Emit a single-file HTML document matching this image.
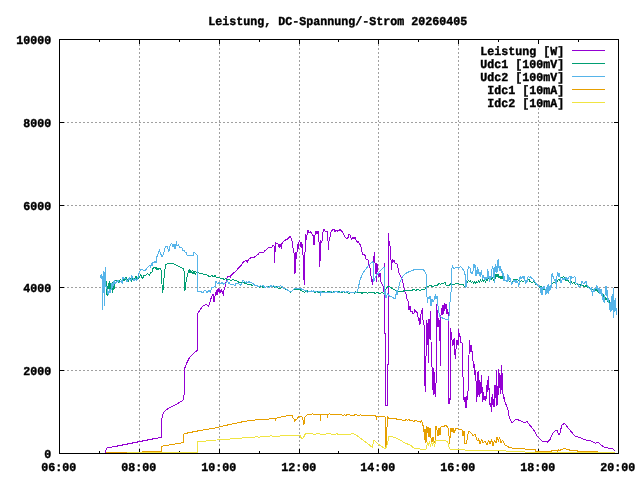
<!DOCTYPE html>
<html><head><meta charset="utf-8"><title>Leistung</title>
<style>
html,body{margin:0;padding:0;background:#fff;}
svg{display:block;}
text{font-family:"Liberation Mono","DejaVu Sans Mono",monospace;font-weight:bold;font-size:12.14px;fill:#000;stroke:#000;stroke-width:0.4px;text-rendering:geometricPrecision;}
.g{stroke:#a0a0a0;stroke-width:1;stroke-dasharray:2 2;shape-rendering:crispEdges;}
.k{stroke:#000;stroke-width:1;fill:none;shape-rendering:crispEdges;}
.d{stroke-width:1;fill:none;shape-rendering:crispEdges;stroke-linejoin:bevel;}
</style></head>
<body>
<svg width="640" height="480" viewBox="0 0 640 480">
<rect width="640" height="480" fill="#fff"/>
<line x1="139.5" y1="454" x2="139.5" y2="39" class="g"/>
<line x1="219.5" y1="454" x2="219.5" y2="39" class="g"/>
<line x1="299.5" y1="454" x2="299.5" y2="39" class="g"/>
<line x1="378.5" y1="454" x2="378.5" y2="39" class="g"/>
<line x1="458.5" y1="454" x2="458.5" y2="39" class="g"/>
<line x1="538.5" y1="454" x2="538.5" y2="39" class="g"/>
<line x1="59" y1="370.5" x2="619" y2="370.5" class="g"/>
<line x1="59" y1="287.5" x2="619" y2="287.5" class="g"/>
<line x1="59" y1="205.5" x2="619" y2="205.5" class="g"/>
<line x1="59" y1="122.5" x2="619" y2="122.5" class="g"/>
<rect x="470" y="44" width="142" height="64" fill="#fff"/>
<path d="M139.5 453V449M139.5 40V44M219.5 453V449M219.5 40V44M299.5 453V449M299.5 40V44M378.5 453V449M378.5 40V44M458.5 453V449M458.5 40V44M538.5 453V449M538.5 40V44M99.5 453V451M99.5 40V42M179.5 453V451M179.5 40V42M259.5 453V451M259.5 40V42M338.5 453V451M338.5 40V42M418.5 453V451M418.5 40V42M498.5 453V451M498.5 40V42M578.5 453V451M578.5 40V42M60 370.5H64M618 370.5H614M60 287.5H64M618 287.5H614M60 205.5H64M618 205.5H614M60 122.5H64M618 122.5H614" class="k"/>
<text x="41.20" y="471" textLength="35" lengthAdjust="spacingAndGlyphs">06:00</text>
<text x="121.20" y="471" textLength="35" lengthAdjust="spacingAndGlyphs">08:00</text>
<text x="201.20" y="471" textLength="35" lengthAdjust="spacingAndGlyphs">10:00</text>
<text x="281.20" y="471" textLength="35" lengthAdjust="spacingAndGlyphs">12:00</text>
<text x="360.20" y="471" textLength="35" lengthAdjust="spacingAndGlyphs">14:00</text>
<text x="440.20" y="471" textLength="35" lengthAdjust="spacingAndGlyphs">16:00</text>
<text x="520.20" y="471" textLength="35" lengthAdjust="spacingAndGlyphs">18:00</text>
<text x="600.20" y="471" textLength="35" lengthAdjust="spacingAndGlyphs">20:00</text>
<text x="44.20" y="458" textLength="7" lengthAdjust="spacingAndGlyphs">0</text>
<text x="23.20" y="375" textLength="28" lengthAdjust="spacingAndGlyphs">2000</text>
<text x="23.20" y="292" textLength="28" lengthAdjust="spacingAndGlyphs">4000</text>
<text x="23.20" y="210" textLength="28" lengthAdjust="spacingAndGlyphs">6000</text>
<text x="23.20" y="127" textLength="28" lengthAdjust="spacingAndGlyphs">8000</text>
<text x="16.20" y="44" textLength="35" lengthAdjust="spacingAndGlyphs">10000</text>
<text x="208.20" y="25" textLength="259" lengthAdjust="spacingAndGlyphs">Leistung, DC-Spannung/-Strom 20260405</text>
<text x="480.20" y="55" textLength="84" lengthAdjust="spacingAndGlyphs">Leistung [W]</text>
<line x1="572" y1="50.5" x2="605" y2="50.5" stroke="#9400d3" class="d"/>
<polyline points="105.50,453.00 106.00,450.00 107.00,448.00 115.00,446.50 125.00,444.50 135.00,442.50 145.00,440.50 155.00,438.50 161.00,437.50 161.00,423.00 162.50,415.00 164.50,411.50 167.50,409.00 175.00,405.00 183.00,400.50 184.00,395.00 184.00,370.00 185.00,367.50 187.00,362.50 189.50,357.50 192.00,355.00 197.50,350.00 197.50,314.00 200.00,310.00 203.00,306.00 205.00,305.00 206.25,304.00 206.70,305.00 208.00,306.00 208.75,306.25 209.40,303.00 210.00,301.70 210.60,299.00 211.25,298.30 211.80,297.00 212.50,295.00 213.30,294.00 214.00,301.70 214.60,298.00 215.00,296.00 215.60,293.00 216.25,291.70 216.60,290.00 217.00,295.00 217.50,289.00 218.30,291.70 218.70,288.30 219.20,290.00 219.60,293.30 220.00,290.00 220.40,292.50 220.80,290.00 221.20,291.70 221.70,289.00 222.20,293.30 222.50,291.00 223.20,295.80 223.75,290.80 225.00,286.70 226.20,281.00 227.00,277.70 228.00,276.00 229.50,276.50 230.50,277.70 231.00,275.60 233.00,273.50 235.40,271.50 237.00,270.00 238.50,268.00 240.00,266.50 241.70,265.20 242.70,262.60 243.75,261.60 245.00,261.00 246.50,260.50 247.40,262.60 248.00,260.50 249.00,259.00 250.50,258.00 252.00,256.90 253.00,258.20 254.20,257.50 255.00,256.50 256.50,255.50 258.30,254.30 259.40,252.00 260.50,252.70 261.50,252.00 263.50,252.70 264.60,250.60 266.70,249.60 267.70,248.00 269.50,247.50 271.90,247.00 273.00,245.40 274.00,245.50 274.50,263.00 275.00,252.00 275.50,242.80 277.00,243.50 278.20,244.00 279.20,248.00 279.70,244.00 280.50,244.00 281.25,248.50 281.80,244.00 283.30,241.25 285.00,240.20 287.00,239.50 289.00,237.50 290.30,236.50 291.00,238.00 291.70,238.50 292.50,245.00 293.70,252.00 294.30,254.00 295.00,273.75 295.40,255.00 295.70,252.00 296.30,259.00 297.00,252.00 297.80,244.00 298.50,249.40 299.00,242.00 299.80,240.60 300.50,246.70 301.00,242.00 301.80,248.00 302.50,244.00 303.50,265.00 304.20,285.25 304.80,260.00 305.50,234.50 306.30,240.00 307.20,234.00 308.00,230.40 309.30,233.00 310.50,231.80 312.00,234.00 313.30,235.80 314.00,245.30 314.70,236.00 316.00,231.00 317.00,234.00 318.00,231.00 318.70,232.00 319.80,267.00 320.80,240.00 321.80,243.00 322.80,233.00 324.00,229.00 325.00,231.00 326.50,232.00 327.50,230.80 328.40,249.60 328.90,241.70 329.50,240.00 330.00,237.50 330.80,233.00 331.70,230.40 333.00,229.80 334.20,229.20 335.00,231.70 335.80,230.00 337.00,231.25 338.50,230.50 339.20,231.00 340.00,229.60 341.00,230.50 342.50,232.00 343.30,233.30 344.20,235.00 345.00,236.70 345.80,238.00 346.70,239.20 347.50,237.50 348.30,237.50 349.00,234.20 350.00,235.00 350.80,237.00 351.50,240.00 352.20,236.70 353.00,239.20 353.80,236.70 354.60,239.20 355.40,237.50 355.80,239.20 356.30,242.00 357.00,240.80 357.80,243.00 358.50,241.50 359.30,244.00 360.00,244.20 360.80,246.00 361.30,248.30 361.70,248.30 362.20,254.00 362.50,255.00 363.30,254.00 364.00,254.50 365.00,255.50 366.00,259.00 368.00,260.00 369.00,265.00 370.00,268.00 371.00,276.00 372.50,285.00 373.30,276.00 374.00,256.00 374.50,252.00 375.00,263.00 376.70,282.00 376.90,263.00 377.50,270.00 379.00,277.00 380.00,273.00 380.80,280.00 381.00,282.00 383.00,286.00 384.00,292.00 384.20,263.00 384.40,333.00 385.40,334.00 385.40,405.00 387.50,405.00 387.50,365.00 388.30,364.00 388.50,233.00 389.00,241.00 389.60,242.00 390.00,246.00 390.80,246.00 391.00,260.00 391.70,270.00 392.20,259.00 393.00,262.00 394.00,260.00 395.00,263.00 396.70,263.00 398.00,268.00 399.00,273.00 402.50,280.00 404.40,290.00 406.25,295.00 407.00,299.00 408.00,301.00 409.00,310.00 410.00,306.00 411.00,312.00 412.00,311.00 413.00,314.00 414.00,313.00 414.40,309.00 415.60,311.00 417.50,313.00 418.00,316.50 418.50,321.00 419.00,318.00 419.50,325.00 420.30,323.00 420.80,316.00 421.50,310.00 422.00,314.00 422.40,308.30 422.60,318.00 423.50,322.00 424.40,327.50 424.60,386.00 425.00,367.00 425.60,392.00 426.20,340.00 426.80,320.00 427.60,330.00 428.50,362.50 429.00,319.00 429.70,338.50 430.40,311.00 431.00,340.00 431.25,366.00 432.00,366.00 432.50,390.00 433.00,368.00 434.00,395.00 434.50,372.00 435.60,397.00 436.25,375.00 436.50,303.70 437.30,312.80 438.00,327.00 438.60,318.00 439.20,327.50 439.80,320.00 440.25,366.00 440.60,340.00 441.00,315.60 441.60,308.00 442.00,315.00 442.60,305.00 443.20,314.00 443.80,305.00 444.30,311.00 445.00,303.50 445.60,309.00 446.20,304.00 447.00,313.80 447.50,309.00 448.30,313.80 448.60,404.00 449.30,398.00 450.00,404.00 450.60,328.40 451.50,337.00 452.90,346.00 453.50,341.00 454.20,338.00 455.00,355.00 455.60,359.00 456.00,349.00 457.00,340.00 458.00,345.00 458.50,329.00 459.40,336.00 460.00,336.00 461.00,342.50 462.00,343.00 462.50,357.00 463.00,377.00 464.00,400.00 464.50,402.00 465.00,397.00 466.00,408.00 467.00,396.00 467.80,400.00 468.50,370.00 469.50,340.00 470.00,345.00 471.00,352.00 471.50,345.00 472.80,360.00 473.10,362.00 473.60,368.00 474.25,364.00 475.00,375.00 475.50,370.00 476.00,381.40 476.50,401.60 477.00,381.00 477.50,372.00 477.90,397.00 478.30,371.00 478.75,395.00 479.30,380.00 479.80,397.00 480.30,382.00 481.00,394.00 481.40,374.60 482.00,387.00 482.60,401.60 483.25,392.00 484.00,400.00 485.00,396.00 485.80,400.50 486.60,396.00 487.20,380.00 487.75,391.50 488.30,375.75 488.90,390.40 489.50,388.00 490.00,405.00 490.80,402.75 491.30,411.75 491.70,404.00 492.20,393.75 492.80,405.00 493.30,399.40 494.00,407.25 494.50,398.00 495.00,384.75 495.60,398.25 496.20,386.00 496.60,370.00 497.00,406.00 497.50,386.00 498.00,396.00 498.40,381.00 498.90,369.00 499.30,388.00 499.60,373.00 500.20,393.75 500.80,375.00 501.25,390.00 501.80,365.00 502.40,388.00 503.00,394.00 503.50,399.40 504.00,397.00 505.00,402.00 506.20,405.00 507.00,407.00 508.00,410.00 509.00,416.00 510.00,419.00 511.00,421.00 512.50,423.00 514.00,421.00 516.00,419.00 520.00,420.60 521.70,421.50 524.30,422.70 526.90,421.50 530.30,425.80 533.75,430.00 537.20,436.00 542.30,441.30 547.50,442.10 550.00,439.50 552.70,433.50 555.20,431.00 557.00,430.00 557.80,432.70 559.50,435.20 561.25,427.50 562.10,425.00 564.70,423.20 566.40,425.80 569.80,430.00 575.00,436.00 580.20,437.80 585.30,439.90 590.50,440.90 595.60,443.30 598.20,442.10 600.80,444.70 604.20,447.30 612.80,449.00 615.40,451.60" stroke="#9400d3" class="d"/>
<text x="480.20" y="68" textLength="84" lengthAdjust="spacingAndGlyphs">Udc1 [100mV]</text>
<line x1="572" y1="63.5" x2="605" y2="63.5" stroke="#009e73" class="d"/>
<polyline points="106.00,278.70 106.20,295.30 106.80,290.00 107.30,296.40 107.80,287.00 108.40,283.00 109.00,289.00 109.60,281.00 110.30,290.00 111.00,283.00 111.50,288.00 112.20,282.00 112.80,293.00 113.50,284.00 114.10,289.00 114.70,280.00 115.50,280.07 117.90,281.60 119.19,282.33 120.43,278.72 122.29,283.31 123.08,277.66 124.30,281.25 125.99,277.09 128.33,281.55 130.07,278.11 131.30,281.62 133.11,277.94 134.94,278.70 135.70,275.67 137.28,279.84 139.00,277.50 140.69,274.56 142.38,278.95 144.06,275.29 145.75,275.21 147.44,273.66 149.12,275.40 150.81,272.47 152.50,271.75 152.50,268.20 153.38,268.65 154.25,266.82 155.12,268.36 156.00,267.36 156.00,270.19 156.96,267.94 157.92,270.24 158.88,268.77 159.84,269.01 160.80,268.09 161.50,275.00 162.50,293.00 163.50,287.00 164.20,275.00 165.60,264.00 167.00,264.00 169.00,263.60 171.00,263.40 173.00,263.50 175.00,264.50 177.00,265.50 179.00,266.50 181.00,267.50 183.00,268.50 183.90,270.00 184.50,277.00 185.00,290.50 186.00,282.00 187.00,277.00 187.90,273.00 189.30,269.50 189.30,271.53 190.42,270.59 191.53,271.29 192.65,270.86 193.77,271.95 194.88,273.79 196.00,274.15 188.00,271.49 189.40,270.21 190.80,272.28 192.20,272.34 193.60,272.34 195.00,271.36 195.00,271.70 197.00,272.50 199.00,273.00 201.00,273.50 203.00,274.00 205.00,274.00 206.50,274.60 208.30,275.80 209.50,277.00 210.80,276.00 212.00,275.00 213.50,277.00 215.00,275.50 216.70,277.50 218.00,278.00 219.50,277.50 221.00,279.00 222.50,278.30 224.00,279.50 225.50,278.50 227.50,280.00 229.00,279.20 231.00,280.50 233.00,279.50 235.00,280.80 236.00,280.20 237.46,281.18 238.92,282.46 240.38,282.19 241.85,282.86 243.31,282.20 244.77,283.12 246.23,283.84 247.69,284.42 249.15,284.73 250.62,283.93 252.08,285.55 253.54,284.59 255.00,286.10 255.00,285.09 256.33,285.16 257.67,286.48 259.00,287.03 259.00,287.83 260.50,286.21 262.00,286.46 263.50,287.96 265.00,287.72 266.50,286.53 268.00,286.70 269.50,287.29 271.00,286.63 272.50,286.96 274.00,286.50 275.50,287.72 277.00,286.62 278.50,288.30 280.00,288.19 281.50,287.99 283.00,287.99 285.00,289.00 288.00,290.50 291.00,292.30 293.00,290.00 296.00,289.00 300.00,289.50 302.00,291.24 303.49,291.89 304.98,292.09 306.47,291.56 307.96,290.75 309.45,291.92 310.95,291.35 312.44,291.95 313.93,291.60 315.42,292.70 316.91,291.23 318.40,292.40 319.89,292.29 321.38,292.04 322.87,291.12 324.36,291.32 325.85,292.96 327.35,291.52 328.84,291.42 330.33,291.70 331.82,292.23 333.31,292.23 334.80,291.23 336.29,291.26 337.78,292.28 339.27,291.69 340.76,292.57 342.25,292.98 343.75,291.61 345.24,292.46 346.73,292.29 348.22,293.10 349.71,293.46 351.20,292.41 352.69,292.10 354.18,293.40 355.67,291.73 357.16,292.37 358.65,292.53 360.15,292.13 361.64,293.17 363.13,292.88 364.62,292.37 366.11,292.73 367.60,293.32 369.09,292.62 370.58,292.14 372.07,292.96 373.56,292.46 375.05,293.35 376.55,292.54 378.04,292.44 379.53,293.99 381.02,292.90 382.51,292.85 384.00,293.38 386.00,289.00 388.00,286.00 390.00,287.00 393.00,289.00 396.70,291.00 400.00,291.50 400.00,291.31 401.47,291.19 402.94,291.30 404.41,290.35 405.88,290.53 407.35,290.34 408.82,290.50 410.29,290.50 411.76,290.50 413.24,289.51 414.71,289.91 416.18,290.36 417.65,289.20 419.12,290.25 420.59,290.06 422.06,289.52 423.53,289.51 425.00,289.12 425.00,287.97 426.54,287.11 428.08,286.34 429.62,285.52 431.15,285.81 432.69,286.61 434.23,285.78 435.77,285.33 437.31,285.60 438.85,283.45 440.38,284.24 441.92,283.07 443.46,283.14 445.00,282.36 445.00,284.20 446.50,285.30 448.00,284.95 449.50,285.19 451.00,283.65 452.50,284.10 454.00,285.07 455.50,283.58 457.00,283.88 458.50,283.66 460.00,285.14 461.50,283.96 462.00,284.50 463.50,285.00 464.50,286.70 465.50,286.70 466.50,284.00 467.00,282.50 468.50,280.00 469.50,282.00 470.50,280.50 471.50,283.00 472.50,281.00 473.50,283.50 474.50,281.00 475.50,284.00 476.50,281.50 477.50,283.00 478.50,280.50 479.50,282.50 480.50,279.50 481.50,282.00 482.50,279.50 483.50,281.50 484.50,279.00 485.50,282.50 486.50,279.00 487.50,280.50 488.50,277.50 489.50,281.00 490.50,278.00 491.50,280.00 492.50,277.00 493.50,281.00 494.50,277.50 495.50,279.00 496.00,274.00 497.00,277.00 498.00,274.50 499.00,278.00 500.00,276.00 501.00,278.50 502.00,276.50 503.00,279.00 504.00,280.50 505.00,280.70 507.00,281.50 509.00,280.80 510.60,281.70 511.50,282.50 512.50,281.50 513.50,280.00 515.30,279.50 516.50,279.00 518.00,279.80 519.00,280.50 520.00,281.50 521.50,280.50 523.00,281.70 524.50,280.50 526.60,281.00 527.50,279.00 529.40,279.50 530.00,281.70 532.00,282.50 533.50,281.70 535.00,282.60 536.00,284.50 537.50,285.50 538.70,286.40 540.00,287.50 541.00,286.50 542.50,288.20 543.50,290.00 544.50,289.00 545.50,291.50 546.50,290.00 547.20,293.00 548.10,291.00 549.00,290.00 550.00,287.50 551.00,285.50 551.90,284.50 553.00,283.00 554.50,282.50 555.60,281.70 556.50,279.50 557.50,281.50 558.50,279.00 559.50,281.00 560.30,278.50 561.50,277.00 562.50,278.00 563.50,276.00 563.50,276.00 565.00,279.50 566.50,281.00 568.00,280.00 569.50,282.50 571.00,281.00 572.50,283.50 574.00,282.00 575.50,284.50 577.00,283.00 578.50,285.00 580.00,284.00 581.50,286.00 583.00,285.00 584.50,287.00 586.00,285.50 587.50,287.00 588.75,287.00 590.00,288.50 591.50,290.00 593.00,289.00 594.50,291.00 596.00,289.50 597.50,291.00 598.75,292.00 600.00,294.00 601.00,293.00 602.00,296.00 603.00,294.50 604.00,297.50 605.00,297.00 606.00,300.00 607.00,298.50 608.00,302.00 609.00,300.50 610.00,304.50 611.00,303.00 612.00,306.00 613.00,304.00 614.00,308.00 615.00,305.50 615.60,308.00" stroke="#009e73" class="d"/>
<text x="480.20" y="81" textLength="84" lengthAdjust="spacingAndGlyphs">Udc2 [100mV]</text>
<line x1="572" y1="76.5" x2="605" y2="76.5" stroke="#56b4e9" class="d"/>
<polyline points="100.00,278.00 100.50,277.60 101.00,275.00 101.50,279.00 102.00,274.50 102.30,310.00 102.60,276.00 103.00,290.00 103.30,273.00 103.60,293.00 104.00,271.00 104.30,305.75 104.70,272.00 105.00,288.00 105.30,268.00 105.60,267.20 105.80,287.00 106.30,286.00 107.00,289.00 107.50,294.00 108.00,291.00 108.70,295.00 109.30,292.00 110.00,289.00 110.70,293.00 111.30,288.00 112.00,283.00 112.60,288.00 113.20,281.00 113.80,286.00 114.50,280.00 115.50,284.30 117.77,280.14 119.47,282.68 121.24,280.53 122.09,283.67 122.87,277.62 124.68,278.80 126.28,279.15 127.03,281.63 129.16,277.33 130.71,281.28 131.88,275.47 134.01,280.62 135.10,278.76 136.48,280.40 138.81,276.12 139.00,272.62 140.57,269.71 142.14,269.35 143.71,270.50 145.29,271.03 146.86,267.92 148.43,266.95 150.00,264.70 150.00,265.00 150.70,267.50 151.40,263.40 152.00,266.00 152.70,262.00 154.00,263.00 155.00,261.40 156.00,263.00 156.80,257.00 158.00,254.00 159.50,249.20 160.20,252.60 160.80,254.00 162.00,256.70 163.50,254.00 164.50,250.00 165.60,245.80 167.60,247.00 168.50,252.00 169.50,249.00 170.30,244.50 171.70,243.00 173.00,247.00 174.00,244.00 175.00,248.50 176.00,244.00 176.50,241.00 177.00,246.00 178.50,244.50 180.00,248.00 181.80,247.00 182.50,251.00 184.00,250.00 185.20,252.60 186.00,252.00 187.20,255.30 193.30,255.30 194.00,252.00 196.00,254.00 196.70,255.00 197.00,254.00 197.50,291.70 200.00,291.50 203.00,292.50 205.00,290.00 207.00,292.50 209.00,290.50 210.40,292.50 211.00,290.00 211.25,287.00 213.00,287.50 214.20,286.70 215.40,286.00 216.00,281.50 216.25,280.80 217.00,283.00 217.90,284.00 219.00,282.50 220.50,284.00 222.00,282.50 223.50,284.20 225.00,283.00 225.80,283.30 226.50,281.50 227.50,280.80 228.50,283.50 229.50,282.00 230.00,284.20 232.00,285.00 233.50,284.20 235.00,285.80 236.00,283.30 237.43,283.57 238.85,283.87 240.27,285.08 241.70,284.58 242.50,280.00 245.00,281.50 245.00,282.96 246.33,281.73 247.67,283.05 249.00,281.68 250.33,282.72 251.67,282.93 253.00,283.31 253.00,283.82 254.20,284.65 255.40,285.76 256.60,285.10 257.80,286.46 259.00,287.18 259.00,287.18 260.33,285.72 261.67,286.35 263.00,285.44 264.33,287.00 265.67,287.52 267.00,286.32 268.33,287.45 269.67,287.10 271.00,285.59 272.33,286.71 273.67,285.72 275.00,286.39 276.33,287.58 277.67,285.99 279.00,287.07 280.33,285.88 281.67,286.04 283.00,288.09 286.00,289.00 289.00,291.00 291.00,292.00 294.00,289.00 297.00,288.00 300.00,288.50 303.00,289.50 305.00,290.69 306.25,290.89 307.50,292.46 308.75,291.24 310.00,291.10 311.25,290.90 312.50,291.75 313.75,290.91 315.00,291.27 316.25,291.32 317.50,292.41 318.75,291.28 320.00,292.18 320.00,296.40 321.00,291.48 322.30,292.99 323.61,292.98 324.91,292.85 326.21,292.80 327.52,292.11 328.82,292.86 330.12,292.28 331.43,291.32 332.73,292.46 334.04,292.70 335.34,291.03 336.64,291.39 337.95,292.57 339.25,292.54 340.55,292.12 341.86,291.24 343.16,291.53 344.46,291.47 345.77,292.96 347.07,291.45 348.38,291.74 349.68,292.38 350.98,292.33 352.29,292.12 353.59,292.30 354.89,292.73 356.20,292.83 357.50,291.22 360.00,280.00 362.50,274.00 365.00,270.00 368.30,265.80 372.50,261.25 373.30,263.30 373.75,281.70 375.00,278.30 376.70,275.00 380.80,270.00 384.20,266.70 384.60,295.00 385.00,290.00 386.00,298.00 387.50,293.30 389.00,295.80 392.00,297.00 395.00,299.20 396.00,294.00 396.70,290.00 397.00,295.00 398.30,288.30 400.00,282.00 402.50,277.00 405.00,273.75 410.00,271.25 415.00,269.50 420.00,269.80 423.75,270.00 426.00,274.00 426.50,290.00 427.40,303.00 428.00,297.00 429.00,299.00 430.00,296.00 431.00,306.00 431.70,299.00 433.00,301.60 434.00,300.00 435.40,294.40 436.00,299.00 437.00,296.00 437.60,303.00 438.50,310.00 439.50,316.00 441.00,317.00 443.00,318.50 445.00,319.00 447.50,320.00 448.75,320.00 450.00,302.50 451.25,290.00 452.00,268.00 452.50,267.50 452.50,265.50 453.62,268.45 454.75,268.56 455.88,266.95 457.00,267.18 458.12,268.22 459.25,267.50 460.38,266.63 461.50,267.20 462.00,268.30 463.50,270.00 464.50,271.70 465.30,276.00 466.00,287.50 466.60,284.00 467.00,280.00 467.50,272.00 468.30,267.50 468.70,265.80 469.30,268.00 470.00,267.50 470.50,273.00 471.20,271.70 472.00,274.00 472.80,272.00 473.30,269.00 474.00,264.00 474.50,268.00 475.00,265.00 475.50,272.00 476.00,276.00 476.60,270.00 477.20,274.00 477.80,267.50 478.30,274.00 478.70,269.00 479.50,276.00 480.00,272.00 480.50,276.70 481.20,270.00 482.00,275.00 482.40,279.00 483.00,275.00 483.70,278.00 484.50,277.00 485.00,280.00 486.00,277.00 487.00,279.00 487.50,269.00 488.00,276.00 488.70,271.00 489.20,281.70 490.00,276.00 490.50,280.00 491.20,277.00 492.00,269.00 492.80,265.80 493.30,271.00 493.70,270.00 494.20,282.50 494.70,272.00 495.20,264.00 496.00,272.00 496.50,266.00 497.00,273.00 497.50,262.00 498.25,259.00 498.70,267.50 499.30,266.00 500.00,271.00 500.50,266.00 501.20,271.70 501.70,269.00 502.30,276.00 502.80,271.00 503.30,275.00 504.00,281.00 504.50,276.00 505.00,281.00 506.00,280.00 507.00,281.70 507.40,279.00 507.80,274.00 508.30,281.00 508.70,275.00 509.20,280.00 509.80,277.00 510.60,281.00 511.00,282.00 511.80,284.50 512.50,282.50 513.40,281.00 514.20,280.00 515.30,282.60 516.00,280.00 517.00,283.00 517.70,281.00 518.30,284.50 519.00,286.40 519.30,277.00 520.00,279.00 520.80,276.00 521.60,279.00 522.40,276.50 523.20,278.50 524.00,276.00 524.70,279.00 525.30,283.50 526.00,280.00 526.80,283.00 527.50,279.80 528.30,276.00 529.50,277.50 530.50,276.00 531.20,278.00 532.50,278.50 533.50,280.00 535.00,281.70 535.80,283.50 537.00,284.50 537.80,285.40 538.70,287.00 539.50,285.50 540.60,288.20 541.00,293.00 541.50,287.00 542.00,294.80 542.50,287.00 543.30,289.00 544.00,286.40 545.30,290.00 545.80,294.80 546.70,290.00 547.20,285.00 547.70,293.00 548.20,284.50 548.80,294.00 549.40,286.00 550.00,290.00 550.70,285.00 551.40,287.50 551.80,274.00 552.50,273.20 553.20,278.90 553.70,276.00 554.30,281.00 555.00,279.00 555.60,283.50 556.00,281.70 556.50,289.20 557.00,276.00 557.60,272.30 558.30,277.00 559.00,273.00 559.80,274.00 560.40,281.00 561.20,283.00 562.50,278.00 564.00,280.00 566.00,277.00 567.00,280.00 569.00,277.00 570.00,276.00 570.50,285.00 571.25,276.00 573.00,278.00 575.00,276.50 576.00,283.00 578.00,284.00 579.00,287.00 581.00,286.00 582.00,281.50 584.00,284.00 586.00,281.00 587.00,285.00 588.50,287.00 590.50,290.00 591.50,287.00 592.00,291.50 592.70,295.50 593.30,289.00 594.00,292.00 595.00,288.00 596.00,289.00 596.70,285.00 597.50,287.00 598.30,292.00 599.00,288.00 600.00,294.00 601.00,289.00 602.00,295.50 602.50,293.00 603.20,302.00 604.00,297.00 604.50,303.00 605.20,292.00 606.00,285.75 606.50,296.00 607.30,290.00 608.00,301.00 608.70,298.00 609.50,310.00 610.30,302.00 611.00,312.00 611.50,300.00 612.20,294.50 612.70,309.50 613.30,288.00 613.80,318.00 614.40,300.00 615.00,312.00 615.50,298.00 616.20,314.50 617.00,308.00" stroke="#56b4e9" class="d"/>
<text x="487.20" y="94" textLength="77" lengthAdjust="spacingAndGlyphs">Idc1 [10mA]</text>
<line x1="572" y1="89.5" x2="605" y2="89.5" stroke="#e69f00" class="d"/>
<polyline points="105.50,452.50 142.00,452.50 142.50,451.25 161.25,451.25 161.25,446.25 183.75,442.50 184.00,433.75 186.25,433.25 200.00,430.50 215.00,428.00 227.50,425.00 245.00,421.25 255.00,420.00 255.00,419.80 256.54,419.95 258.08,419.44 259.62,419.88 261.15,420.01 262.69,419.31 264.23,419.38 265.77,419.33 267.31,419.37 268.85,419.09 270.38,418.86 271.92,418.95 273.46,418.14 275.00,418.94 275.00,421.25 276.00,418.00 276.00,418.40 277.44,417.92 278.89,417.15 280.33,417.29 281.78,416.42 283.22,416.51 284.67,416.05 286.11,416.12 287.56,415.53 289.00,415.09 290.00,415.00 292.00,415.50 293.00,418.00 294.00,419.00 294.80,422.30 295.30,419.00 296.50,419.50 297.50,418.00 298.50,417.00 299.40,416.20 300.50,417.00 301.50,416.50 302.20,417.50 303.00,420.00 303.60,424.70 304.20,423.00 305.00,417.00 306.00,416.00 307.30,414.40 308.00,414.91 309.50,414.15 311.00,414.58 312.50,413.82 314.00,414.59 315.50,414.90 317.00,414.90 318.50,414.26 320.00,413.98 320.00,420.50 321.00,415.00 321.00,414.63 322.50,414.27 324.00,414.24 325.50,414.15 327.00,414.37 327.50,417.50 328.00,414.00 328.00,414.22 329.50,413.94 331.00,414.30 332.50,414.46 334.00,414.62 335.50,414.40 337.00,414.96 338.50,414.44 340.00,414.54 341.50,414.75 343.00,415.19 344.50,414.93 346.00,415.25 347.50,414.40 349.00,414.78 350.50,415.18 352.00,415.28 353.50,415.46 355.00,414.84 356.50,414.97 358.00,415.15 359.50,415.18 361.00,414.89 362.50,415.31 364.00,415.67 365.50,415.85 367.00,415.30 368.50,415.83 370.00,416.05 371.50,415.40 373.00,415.29 374.50,415.53 376.00,416.21 376.25,420.00 377.00,416.00 377.00,416.66 378.60,416.29 380.20,416.36 381.80,416.83 383.40,416.67 385.00,416.54 385.00,445.00 386.00,447.50 386.25,444.00 387.50,416.25 388.75,418.00 388.75,418.14 390.21,418.78 391.67,418.72 393.12,418.70 394.58,418.90 396.04,418.69 397.50,419.71 398.96,419.30 400.42,419.88 401.88,419.84 403.33,420.45 404.79,420.44 406.25,419.65 407.71,420.24 409.17,419.76 410.62,420.94 412.08,420.35 413.54,421.53 415.00,420.62 415.00,420.60 421.25,422.20 421.80,420.60 422.80,425.30 423.60,425.00 424.50,440.00 425.00,429.00 426.00,442.50 426.50,426.00 427.50,433.00 428.00,427.00 429.00,437.00 430.00,428.00 430.60,436.00 432.00,442.00 433.00,437.00 434.00,443.00 435.30,440.00 436.00,426.00 437.00,430.00 438.00,436.00 439.00,428.00 440.00,435.00 440.80,427.00 442.00,426.00 444.00,427.00 445.50,425.00 447.00,426.50 448.60,428.40 449.40,444.00 450.20,436.00 451.00,428.00 452.00,432.00 453.00,428.00 454.00,433.00 455.60,429.00 457.00,428.40 459.00,430.00 461.90,429.00 463.00,436.00 464.00,431.00 465.00,444.00 466.60,443.00 468.00,434.00 469.00,430.80 471.25,433.00 473.00,436.00 475.00,434.00 477.50,441.00 478.50,438.60 480.00,444.00 481.50,439.00 483.00,443.00 485.30,441.00 487.00,445.00 488.50,440.00 490.00,444.00 491.50,439.40 493.00,445.60 494.50,440.00 496.25,443.00 497.00,437.00 498.50,442.00 499.50,437.00 501.00,443.30 502.50,440.00 505.00,445.00 508.75,447.20 512.00,448.00 515.00,448.40 520.00,448.50 530.00,449.60 535.60,449.60 536.00,451.50 551.00,451.50 552.00,450.20 556.70,450.20 557.50,451.50 558.50,449.50 559.50,451.00 561.00,449.50 563.00,449.00 564.50,448.20 566.00,449.00 569.40,449.80 570.00,450.30 577.80,450.30 578.00,451.50 595.00,451.50 600.00,452.50 615.00,452.50" stroke="#e69f00" class="d"/>
<text x="487.20" y="107" textLength="77" lengthAdjust="spacingAndGlyphs">Idc2 [10mA]</text>
<line x1="572" y1="102.5" x2="605" y2="102.5" stroke="#f0e442" class="d"/>
<polyline points="105.50,453.50 127.50,453.50 127.70,452.50 197.50,452.50 197.50,442.00 210.00,440.50 230.00,439.00 255.00,437.00 255.00,437.01 257.05,436.90 259.09,437.15 261.14,436.82 263.18,437.02 265.23,436.37 267.27,436.05 269.32,436.05 271.36,435.82 273.41,436.39 275.45,436.28 277.50,436.25 279.55,436.19 281.59,435.44 283.64,435.29 285.68,435.80 287.73,435.05 289.77,435.29 291.82,435.45 293.86,435.43 295.91,435.30 297.95,435.54 300.00,435.47 300.00,436.00 302.00,438.75 303.75,437.00 305.00,434.50 305.00,433.81 307.00,433.83 309.00,433.55 311.00,433.66 313.00,433.99 315.00,434.20 317.00,433.81 319.00,433.68 321.00,434.28 323.00,434.28 325.00,434.12 327.00,433.77 329.00,433.84 331.00,433.92 333.00,434.52 335.00,434.61 337.00,433.74 339.00,434.64 341.00,434.63 343.00,434.52 345.00,433.97 347.00,434.72 349.00,434.57 351.00,433.92 353.00,433.82 355.00,434.18 360.00,438.00 365.00,441.50 370.00,445.50 372.50,447.50 373.75,440.00 377.50,443.75 381.00,446.00 385.00,448.75 386.00,447.50 387.50,443.75 388.75,436.25 390.00,436.25 395.00,437.50 400.00,440.00 405.00,443.00 410.00,445.00 415.00,448.75 417.50,448.75 425.00,449.50 426.00,449.50 427.50,442.50 428.50,446.00 429.50,441.00 430.50,447.00 431.50,442.00 432.50,446.00 433.50,441.00 434.50,447.00 435.50,441.00 437.00,440.50 440.00,440.00 444.00,440.50 447.80,441.70 449.40,448.75 452.00,449.50 470.00,450.20 500.00,450.80 520.00,451.50 530.00,452.50 615.00,452.50" stroke="#f0e442" class="d"/>
<rect x="59.5" y="39.5" width="559" height="414" class="k" fill="none"/>
</svg>
</body></html>
